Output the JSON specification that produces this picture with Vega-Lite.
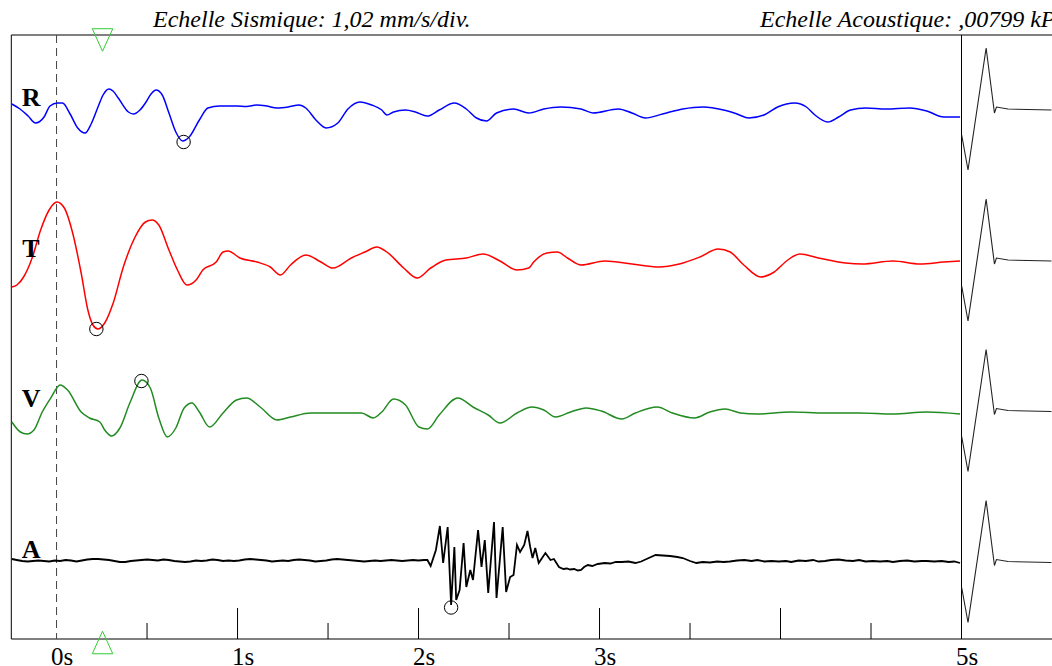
{
  "$schema": "https://vega.github.io/schema/vega-lite/v6.json",
  "width": 1040.7,
  "height": 604,
  "autosize": {"type": "none"},
  "padding": {"left": 11.3, "top": 35, "right": 0, "bottom": 27},
  "background": "white",
  "config": {"view": {"stroke": null}},
  "datasets": {
    "traces": [
      {"ch":"R","t":-0.247,"v":53.5},{"ch":"R","t":-0.202,"v":53.0},{"ch":"R","t":-0.157,"v":52.3},{"ch":"R","t":-0.116,"v":51.6},{"ch":"R","t":-0.069,"v":52.2},{"ch":"R","t":-0.036,"v":53.3},{"ch":"R","t":0.005,"v":53.6},{"ch":"R","t":0.033,"v":53.6},{"ch":"R","t":0.075,"v":52.5},{"ch":"R","t":0.117,"v":51.1},{"ch":"R","t":0.158,"v":50.6},{"ch":"R","t":0.191,"v":51.5},{"ch":"R","t":0.229,"v":53.2},{"ch":"R","t":0.257,"v":54.4},{"ch":"R","t":0.289,"v":55.0},{"ch":"R","t":0.312,"v":54.8},{"ch":"R","t":0.341,"v":54.1},{"ch":"R","t":0.397,"v":52.7},{"ch":"R","t":0.425,"v":52.5},{"ch":"R","t":0.461,"v":52.9},{"ch":"R","t":0.491,"v":53.6},{"ch":"R","t":0.522,"v":54.5},{"ch":"R","t":0.55,"v":54.9},{"ch":"R","t":0.584,"v":54.4},{"ch":"R","t":0.621,"v":52.6},{"ch":"R","t":0.659,"v":50.7},{"ch":"R","t":0.696,"v":49.8},{"ch":"R","t":0.733,"v":50.2},{"ch":"R","t":0.789,"v":51.9},{"ch":"R","t":0.836,"v":53.1},{"ch":"R","t":0.901,"v":53.3},{"ch":"R","t":0.994,"v":53.3},{"ch":"R","t":1.05,"v":53.25},{"ch":"R","t":1.107,"v":53.4},{"ch":"R","t":1.16,"v":53.3},{"ch":"R","t":1.218,"v":53.1},{"ch":"R","t":1.28,"v":53.2},{"ch":"R","t":1.34,"v":53.4},{"ch":"R","t":1.377,"v":53.1},{"ch":"R","t":1.433,"v":51.9},{"ch":"R","t":1.489,"v":51.1},{"ch":"R","t":1.554,"v":51.6},{"ch":"R","t":1.61,"v":53.0},{"ch":"R","t":1.676,"v":53.7},{"ch":"R","t":1.741,"v":53.4},{"ch":"R","t":1.797,"v":52.9},{"ch":"R","t":1.825,"v":52.4},{"ch":"R","t":1.862,"v":52.7},{"ch":"R","t":1.928,"v":52.9},{"ch":"R","t":1.983,"v":52.7},{"ch":"R","t":2.049,"v":52.3},{"ch":"R","t":2.114,"v":52.9},{"ch":"R","t":2.198,"v":53.6},{"ch":"R","t":2.264,"v":53.0},{"ch":"R","t":2.32,"v":52.1},{"ch":"R","t":2.376,"v":51.8},{"ch":"R","t":2.431,"v":52.6},{"ch":"R","t":2.525,"v":53.0},{"ch":"R","t":2.609,"v":52.6},{"ch":"R","t":2.692,"v":53.0},{"ch":"R","t":2.786,"v":53.2},{"ch":"R","t":2.898,"v":53.0},{"ch":"R","t":2.964,"v":52.6},{"ch":"R","t":3.104,"v":53.0},{"ch":"R","t":3.179,"v":52.6},{"ch":"R","t":3.254,"v":52.1},{"ch":"R","t":3.348,"v":52.5},{"ch":"R","t":3.46,"v":53.0},{"ch":"R","t":3.572,"v":53.2},{"ch":"R","t":3.685,"v":52.9},{"ch":"R","t":3.76,"v":52.5},{"ch":"R","t":3.825,"v":52.1},{"ch":"R","t":3.909,"v":52.4},{"ch":"R","t":3.984,"v":53.2},{"ch":"R","t":4.078,"v":53.6},{"ch":"R","t":4.143,"v":53.2},{"ch":"R","t":4.19,"v":52.4},{"ch":"R","t":4.261,"v":51.7},{"ch":"R","t":4.321,"v":52.2},{"ch":"R","t":4.387,"v":52.9},{"ch":"R","t":4.471,"v":53.1},{"ch":"R","t":4.583,"v":53.0},{"ch":"R","t":4.714,"v":53.1},{"ch":"R","t":4.808,"v":52.8},{"ch":"R","t":4.902,"v":52.2},{"ch":"R","t":4.992,"v":52.2},

      {"ch":"T","t":-0.247,"v":35.2},{"ch":"T","t":-0.219,"v":35.4},{"ch":"T","t":-0.182,"v":36.2},{"ch":"T","t":-0.135,"v":38.1},{"ch":"T","t":-0.088,"v":40.9},{"ch":"T","t":-0.041,"v":42.9},{"ch":"T","t":0.002,"v":43.7},{"ch":"T","t":0.043,"v":43.1},{"ch":"T","t":0.089,"v":40.6},{"ch":"T","t":0.136,"v":36.6},{"ch":"T","t":0.173,"v":32.9},{"ch":"T","t":0.201,"v":31.4},{"ch":"T","t":0.229,"v":31.0},{"ch":"T","t":0.266,"v":31.6},{"ch":"T","t":0.313,"v":33.6},{"ch":"T","t":0.369,"v":37.2},{"ch":"T","t":0.434,"v":40.2},{"ch":"T","t":0.491,"v":41.7},{"ch":"T","t":0.528,"v":41.9},{"ch":"T","t":0.565,"v":41.4},{"ch":"T","t":0.621,"v":38.9},{"ch":"T","t":0.668,"v":36.9},{"ch":"T","t":0.72,"v":35.4},{"ch":"T","t":0.771,"v":35.9},{"ch":"T","t":0.808,"v":36.9},{"ch":"T","t":0.882,"v":37.7},{"ch":"T","t":0.92,"v":38.7},{"ch":"T","t":0.948,"v":38.8},{"ch":"T","t":1.013,"v":38.1},{"ch":"T","t":1.107,"v":37.7},{"ch":"T","t":1.181,"v":37.2},{"ch":"T","t":1.237,"v":36.4},{"ch":"T","t":1.293,"v":37.4},{"ch":"T","t":1.377,"v":38.4},{"ch":"T","t":1.461,"v":37.7},{"ch":"T","t":1.527,"v":37.1},{"ch":"T","t":1.629,"v":38.1},{"ch":"T","t":1.704,"v":38.7},{"ch":"T","t":1.769,"v":39.2},{"ch":"T","t":1.825,"v":38.7},{"ch":"T","t":1.918,"v":37.1},{"ch":"T","t":1.993,"v":36.1},{"ch":"T","t":2.067,"v":37.1},{"ch":"T","t":2.151,"v":37.9},{"ch":"T","t":2.264,"v":38.1},{"ch":"T","t":2.357,"v":38.5},{"ch":"T","t":2.45,"v":37.8},{"ch":"T","t":2.544,"v":36.9},{"ch":"T","t":2.609,"v":37.1},{"ch":"T","t":2.636,"v":37.7},{"ch":"T","t":2.71,"v":38.6},{"ch":"T","t":2.767,"v":38.7},{"ch":"T","t":2.823,"v":38.1},{"ch":"T","t":2.898,"v":37.4},{"ch":"T","t":3.029,"v":37.8},{"ch":"T","t":3.179,"v":37.5},{"ch":"T","t":3.329,"v":37.2},{"ch":"T","t":3.441,"v":37.5},{"ch":"T","t":3.554,"v":38.2},{"ch":"T","t":3.656,"v":39.0},{"ch":"T","t":3.722,"v":38.7},{"ch":"T","t":3.797,"v":37.4},{"ch":"T","t":3.891,"v":36.2},{"ch":"T","t":3.965,"v":36.7},{"ch":"T","t":4.04,"v":37.9},{"ch":"T","t":4.106,"v":38.5},{"ch":"T","t":4.209,"v":38.1},{"ch":"T","t":4.359,"v":37.6},{"ch":"T","t":4.452,"v":37.5},{"ch":"T","t":4.621,"v":37.8},{"ch":"T","t":4.771,"v":37.5},{"ch":"T","t":4.902,"v":37.7},{"ch":"T","t":4.992,"v":37.8},

      {"ch":"V","t":-0.247,"v":21.7},{"ch":"V","t":-0.2,"v":20.7},{"ch":"V","t":-0.163,"v":20.5},{"ch":"V","t":-0.125,"v":20.9},{"ch":"V","t":-0.079,"v":22.7},{"ch":"V","t":-0.032,"v":24.1},{"ch":"V","t":0.02,"v":25.4},{"ch":"V","t":0.061,"v":24.9},{"ch":"V","t":0.136,"v":22.7},{"ch":"V","t":0.182,"v":22.1},{"ch":"V","t":0.239,"v":21.7},{"ch":"V","t":0.266,"v":20.9},{"ch":"V","t":0.304,"v":20.3},{"ch":"V","t":0.35,"v":21.1},{"ch":"V","t":0.407,"v":23.7},{"ch":"V","t":0.472,"v":25.9},{"ch":"V","t":0.518,"v":25.1},{"ch":"V","t":0.565,"v":22.1},{"ch":"V","t":0.612,"v":20.2},{"ch":"V","t":0.659,"v":21.1},{"ch":"V","t":0.705,"v":23.1},{"ch":"V","t":0.748,"v":23.6},{"ch":"V","t":0.789,"v":22.7},{"ch":"V","t":0.845,"v":21.2},{"ch":"V","t":0.92,"v":22.6},{"ch":"V","t":0.994,"v":23.9},{"ch":"V","t":1.05,"v":24.1},{"ch":"V","t":1.125,"v":23.2},{"ch":"V","t":1.218,"v":21.9},{"ch":"V","t":1.293,"v":22.2},{"ch":"V","t":1.405,"v":22.6},{"ch":"V","t":1.554,"v":22.6},{"ch":"V","t":1.685,"v":22.6},{"ch":"V","t":1.75,"v":22.1},{"ch":"V","t":1.797,"v":22.7},{"ch":"V","t":1.862,"v":24.0},{"ch":"V","t":1.928,"v":23.4},{"ch":"V","t":2.002,"v":21.2},{"ch":"V","t":2.049,"v":21.0},{"ch":"V","t":2.114,"v":22.4},{"ch":"V","t":2.217,"v":24.1},{"ch":"V","t":2.301,"v":23.2},{"ch":"V","t":2.385,"v":22.4},{"ch":"V","t":2.45,"v":21.6},{"ch":"V","t":2.544,"v":22.6},{"ch":"V","t":2.627,"v":23.2},{"ch":"V","t":2.692,"v":22.9},{"ch":"V","t":2.757,"v":22.2},{"ch":"V","t":2.841,"v":22.7},{"ch":"V","t":2.926,"v":23.1},{"ch":"V","t":3.01,"v":22.8},{"ch":"V","t":3.123,"v":22.0},{"ch":"V","t":3.198,"v":22.6},{"ch":"V","t":3.319,"v":23.2},{"ch":"V","t":3.403,"v":22.6},{"ch":"V","t":3.525,"v":22.1},{"ch":"V","t":3.609,"v":22.7},{"ch":"V","t":3.694,"v":23.0},{"ch":"V","t":3.778,"v":22.6},{"ch":"V","t":3.872,"v":22.5},{"ch":"V","t":4.059,"v":22.7},{"ch":"V","t":4.246,"v":22.6},{"ch":"V","t":4.434,"v":22.6},{"ch":"V","t":4.621,"v":22.5},{"ch":"V","t":4.808,"v":22.7},{"ch":"V","t":4.992,"v":22.5}
    ],
    "acoustic": [
      {"t":-0.247,"v":8.0},{"t":-0.22,"v":7.9},{"t":-0.19,"v":7.8},{"t":-0.16,"v":7.75},{"t":-0.13,"v":7.8},{"t":-0.1,"v":7.85},{"t":-0.07,"v":7.8},{"t":-0.04,"v":7.75},{"t":-0.01,"v":7.85},{"t":0.02,"v":7.8},{"t":0.05,"v":7.9},{"t":0.08,"v":7.85},{"t":0.11,"v":7.75},{"t":0.14,"v":7.85},{"t":0.17,"v":7.95},{"t":0.2,"v":8.0},{"t":0.23,"v":8.0},{"t":0.26,"v":7.95},{"t":0.29,"v":7.9},{"t":0.32,"v":7.8},{"t":0.35,"v":7.7},{"t":0.38,"v":7.7},{"t":0.41,"v":7.8},{"t":0.44,"v":7.85},{"t":0.47,"v":7.9},{"t":0.5,"v":7.95},{"t":0.53,"v":7.9},{"t":0.56,"v":7.85},{"t":0.59,"v":7.95},{"t":0.62,"v":7.9},{"t":0.65,"v":7.8},{"t":0.68,"v":7.75},{"t":0.71,"v":7.7},{"t":0.74,"v":7.75},{"t":0.77,"v":7.85},{"t":0.8,"v":7.8},{"t":0.83,"v":7.85},{"t":0.86,"v":7.95},{"t":0.89,"v":7.9},{"t":0.92,"v":7.8},{"t":0.95,"v":7.85},{"t":0.98,"v":7.8},{"t":1.01,"v":7.85},{"t":1.04,"v":7.95},{"t":1.07,"v":8.0},{"t":1.1,"v":7.95},{"t":1.13,"v":7.9},{"t":1.16,"v":7.85},{"t":1.19,"v":7.75},{"t":1.22,"v":7.8},{"t":1.25,"v":7.85},{"t":1.28,"v":7.8},{"t":1.31,"v":7.9},{"t":1.34,"v":7.95},{"t":1.37,"v":7.9},{"t":1.4,"v":7.85},{"t":1.43,"v":7.75},{"t":1.46,"v":7.8},{"t":1.49,"v":7.85},{"t":1.52,"v":7.95},{"t":1.55,"v":8.0},{"t":1.58,"v":7.95},{"t":1.61,"v":7.9},{"t":1.64,"v":7.85},{"t":1.67,"v":7.8},{"t":1.7,"v":7.75},{"t":1.73,"v":7.8},{"t":1.76,"v":7.85},{"t":1.79,"v":7.8},{"t":1.82,"v":7.85},{"t":1.85,"v":7.9},{"t":1.88,"v":7.85},{"t":1.91,"v":7.8},{"t":1.94,"v":7.85},{"t":1.97,"v":7.9},{"t":2.0,"v":7.85},{"t":2.03,"v":7.9},{"t":2.049,"v":7.9},
      {"t":2.067,"v":7.3},{"t":2.096,"v":8.9},{"t":2.118,"v":11.3},{"t":2.136,"v":7.6},{"t":2.161,"v":11.2},{"t":2.18,"v":3.4},{"t":2.198,"v":9.2},{"t":2.208,"v":3.9},{"t":2.227,"v":4.9},{"t":2.249,"v":9.6},{"t":2.264,"v":5.2},{"t":2.286,"v":6.9},{"t":2.301,"v":5.9},{"t":2.329,"v":10.9},{"t":2.348,"v":7.2},{"t":2.366,"v":9.9},{"t":2.385,"v":4.6},{"t":2.417,"v":11.7},{"t":2.431,"v":4.1},{"t":2.465,"v":11.2},{"t":2.484,"v":4.7},{"t":2.506,"v":6.2},{"t":2.525,"v":6.4},{"t":2.544,"v":9.4},{"t":2.561,"v":8.7},{"t":2.584,"v":9.4},{"t":2.602,"v":10.8},{"t":2.617,"v":9.2},{"t":2.63,"v":8.1},{"t":2.645,"v":9.1},{"t":2.664,"v":7.6},{"t":2.701,"v":8.6},{"t":2.729,"v":7.9},{"t":2.748,"v":8.0},{"t":2.776,"v":7.2},{"t":2.8,"v":7.0},{"t":2.82,"v":7.05},{"t":2.837,"v":6.95},{"t":2.86,"v":7.0},{"t":2.88,"v":6.85},{"t":2.898,"v":6.9},{"t":2.915,"v":7.2},{"t":2.935,"v":7.4},{"t":2.96,"v":7.3},{"t":2.99,"v":7.5},{"t":3.029,"v":7.6},{"t":3.06,"v":7.55},{"t":3.09,"v":7.7},{"t":3.123,"v":7.7},{"t":3.16,"v":7.75},{"t":3.198,"v":7.6},{"t":3.23,"v":7.75},{"t":3.272,"v":8.1},{"t":3.31,"v":8.4},{"t":3.35,"v":8.35},{"t":3.39,"v":8.3},{"t":3.43,"v":8.2},{"t":3.46,"v":8.1},{"t":3.5,"v":7.8},{"t":3.535,"v":7.6},{"t":3.57,"v":7.7},{"t":3.61,"v":7.65},{"t":3.65,"v":7.75},{"t":3.685,"v":7.7},{"t":3.72,"v":7.75},{"t":3.76,"v":7.85},{"t":3.8,"v":7.9},{"t":3.84,"v":7.8},{"t":3.872,"v":7.9},{"t":3.91,"v":7.75},{"t":3.95,"v":7.8},{"t":3.99,"v":7.75},{"t":4.03,"v":7.8},{"t":4.059,"v":7.7},{"t":4.1,"v":7.85},{"t":4.14,"v":7.8},{"t":4.18,"v":7.9},{"t":4.21,"v":7.75},{"t":4.246,"v":7.8},{"t":4.28,"v":7.9},{"t":4.32,"v":7.95},{"t":4.36,"v":7.85},{"t":4.4,"v":7.8},{"t":4.434,"v":7.9},{"t":4.47,"v":7.75},{"t":4.51,"v":7.8},{"t":4.55,"v":7.75},{"t":4.59,"v":7.8},{"t":4.621,"v":7.7},{"t":4.66,"v":7.8},{"t":4.7,"v":7.85},{"t":4.74,"v":7.75},{"t":4.78,"v":7.8},{"t":4.808,"v":7.8},{"t":4.85,"v":7.75},{"t":4.89,"v":7.8},{"t":4.93,"v":7.7},{"t":4.96,"v":7.75},{"t":4.992,"v":7.6}
    ],
    "pulses": [
      {"ch":"R","t":5.001,"v":50.4},{"ch":"R","t":5.036,"v":46.9},{"ch":"R","t":5.136,"v":59.1},{"ch":"R","t":5.182,"v":52.6},{"ch":"R","t":5.193,"v":53.2},{"ch":"R","t":5.257,"v":53.0},{"ch":"R","t":5.497,"v":52.9},
      {"ch":"T","t":5.001,"v":35.3},{"ch":"T","t":5.036,"v":31.8},{"ch":"T","t":5.136,"v":44.0},{"ch":"T","t":5.182,"v":37.5},{"ch":"T","t":5.193,"v":38.1},{"ch":"T","t":5.257,"v":37.9},{"ch":"T","t":5.497,"v":37.8},
      {"ch":"V","t":5.001,"v":20.25},{"ch":"V","t":5.036,"v":16.75},{"ch":"V","t":5.136,"v":28.95},{"ch":"V","t":5.182,"v":22.45},{"ch":"V","t":5.193,"v":23.05},{"ch":"V","t":5.257,"v":22.85},{"ch":"V","t":5.497,"v":22.75},
      {"ch":"A","t":5.001,"v":5.15},{"ch":"A","t":5.036,"v":1.65},{"ch":"A","t":5.136,"v":13.85},{"ch":"A","t":5.182,"v":7.35},{"ch":"A","t":5.193,"v":7.95},{"ch":"A","t":5.257,"v":7.75},{"ch":"A","t":5.497,"v":7.65}
    ],
    "peaks": [
      {"ch":"R","t":0.702,"v":49.7},{"ch":"T","t":0.22,"v":31.0},{"ch":"V","t":0.469,"v":25.8},{"ch":"A","t":2.18,"v":3.15}
    ],
    "ticks": [
      {"t":0.5,"base":0,"len":1.6},{"t":1,"base":0,"len":3.1},{"t":1.5,"base":0,"len":1.6},{"t":2,"base":0,"len":3.1},{"t":2.5,"base":0,"len":1.6},{"t":3,"base":0,"len":3.1},{"t":3.5,"base":0,"len":1.6},{"t":4,"base":0,"len":3.1},{"t":4.5,"base":0,"len":1.6}
    ],
    "vlines": [
      {"t":-0.25,"kind":"frame"},{"t":5,"kind":"separator"}
    ],
    "zero": [
      {"t":0}
    ],
    "hlines": [
      {"v":60.4},{"v":0}
    ],
    "channels": [
      {"name":"R","t":-0.141,"v":53.3},{"name":"T","t":-0.141,"v":38.2},{"name":"V","t":-0.141,"v":23.2},{"name":"A","t":-0.141,"v":8.1}
    ],
    "scales": [
      {"label":"Echelle Sismique: 1,02 mm/s/div.","t":0.533,"v":61.2},
      {"label":"Echelle Acoustique: ,00799 kPa/div.","t":3.887,"v":61.2}
    ],
    "markers": [
      {"pos":"top","t":0.254,"v":59.9},{"pos":"bottom","t":0.254,"v":-0.35}
    ]
  },
  "layer": [
    {
      "data": {"name": "ticks"},
      "mark": {"type": "rule", "color": "black", "strokeWidth": 1},
      "encoding": {
        "x": {"field": "t", "type": "quantitative",
              "scale": {"domain": [-0.25, 5.5], "nice": false, "zero": false},
              "axis": {"values": [0, 1, 2, 3, 5], "labelExpr": "datum.value + 's'",
                       "title": null, "grid": false, "ticks": false, "tickSize": 0, "domain": false,
                       "labelFont": "Liberation Serif", "labelFontSize": 25, "labelColor": "black",
                       "labelBaseline": "alphabetic", "labelPadding": 25, "labelOffset": 5}},
        "y": {"field": "base", "type": "quantitative",
              "scale": {"domain": [0, 60.4], "nice": false, "zero": false}, "axis": null},
        "y2": {"field": "len"}
      }
    },
    {
      "data": {"name": "hlines"},
      "mark": {"type": "rule", "color": "black", "strokeWidth": 1},
      "encoding": {"y": {"field": "v", "type": "quantitative", "axis": null}}
    },
    {
      "data": {"name": "vlines"},
      "mark": {"type": "rule", "color": "black", "strokeWidth": 1},
      "encoding": {"x": {"field": "t", "type": "quantitative"}}
    },
    {
      "data": {"name": "zero"},
      "mark": {"type": "rule", "color": "#444444", "strokeWidth": 1, "strokeDash": [8, 5]},
      "encoding": {"x": {"field": "t", "type": "quantitative"}}
    },
    {
      "data": {"name": "traces"},
      "mark": {"type": "line", "interpolate": "monotone", "strokeWidth": 1.5},
      "encoding": {
        "x": {"field": "t", "type": "quantitative"},
        "y": {"field": "v", "type": "quantitative", "axis": null},
        "color": {"field": "ch", "type": "nominal",
                  "scale": {"domain": ["R", "T", "V"], "range": ["#0000ff", "#ff0000", "#228b22"]},
                  "legend": null}
      }
    },
    {
      "data": {"name": "acoustic"},
      "mark": {"type": "line", "color": "black", "strokeWidth": 1.8},
      "encoding": {
        "x": {"field": "t", "type": "quantitative"},
        "y": {"field": "v", "type": "quantitative", "axis": null}
      }
    },
    {
      "data": {"name": "pulses"},
      "mark": {"type": "line", "color": "#222222", "strokeWidth": 1.1},
      "encoding": {
        "x": {"field": "t", "type": "quantitative"},
        "y": {"field": "v", "type": "quantitative", "axis": null},
        "detail": {"field": "ch", "type": "nominal"}
      }
    },
    {
      "data": {"name": "peaks"},
      "mark": {"type": "point", "shape": "circle", "size": 180, "filled": false, "stroke": "black", "strokeWidth": 1, "opacity": 1},
      "encoding": {
        "x": {"field": "t", "type": "quantitative"},
        "y": {"field": "v", "type": "quantitative", "axis": null}
      }
    },
    {
      "data": {"name": "markers"},
      "transform": [{"filter": "datum.pos === 'top'"}],
      "mark": {"type": "point", "shape": "M -1 -1.1 L 1 -1.1 L 0 1.1 Z", "size": 420, "filled": false, "stroke": "#33cc33", "strokeWidth": 1, "opacity": 1},
      "encoding": {
        "x": {"field": "t", "type": "quantitative"},
        "y": {"field": "v", "type": "quantitative", "axis": null}
      }
    },
    {
      "data": {"name": "markers"},
      "transform": [{"filter": "datum.pos === 'bottom'"}],
      "mark": {"type": "point", "shape": "M -1 1.1 L 1 1.1 L 0 -1.1 Z", "size": 420, "filled": false, "stroke": "#33cc33", "strokeWidth": 1, "opacity": 1},
      "encoding": {
        "x": {"field": "t", "type": "quantitative"},
        "y": {"field": "v", "type": "quantitative", "axis": null}
      }
    },
    {
      "data": {"name": "channels"},
      "mark": {"type": "text", "font": "Liberation Serif", "fontWeight": "bold", "fontSize": 26, "color": "black", "align": "center", "baseline": "alphabetic"},
      "encoding": {
        "x": {"field": "t", "type": "quantitative"},
        "y": {"field": "v", "type": "quantitative", "axis": null},
        "text": {"field": "name", "type": "nominal"}
      }
    },
    {
      "data": {"name": "scales"},
      "mark": {"type": "text", "font": "Liberation Serif", "fontStyle": "italic", "fontSize": 24, "color": "black", "align": "left", "baseline": "alphabetic"},
      "encoding": {
        "x": {"field": "t", "type": "quantitative"},
        "y": {"field": "v", "type": "quantitative", "axis": null},
        "text": {"field": "label", "type": "nominal"}
      }
    }
  ]
}
